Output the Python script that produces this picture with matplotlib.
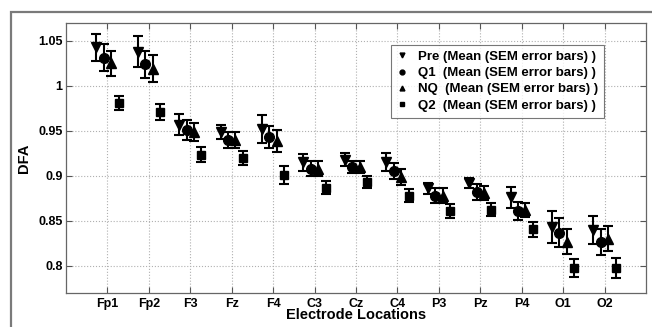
import numpy as np
import matplotlib
matplotlib.use('Agg')
import matplotlib.pyplot as plt
from matplotlib.patches import Rectangle

plt.rcParams['font.family'] = ['Liberation Sans', 'DejaVu Sans']
plt.rcParams['font.weight'] = 'bold'

# electrode sites
electrodes = ['Fp1', 'Fp2', 'F3', 'Fz', 'F4', 'C3', 'Cz', 'C4', 'P3', 'Pz', 'P4', 'O1', 'O2']

# mean DFA and SEM per group
pre_mean = [1.043, 1.038, 0.957, 0.949, 0.952, 0.915, 0.918, 0.915, 0.886, 0.892, 0.876, 0.843, 0.840]
pre_sem = [0.015, 0.017, 0.012, 0.008, 0.015, 0.0095, 0.0075, 0.010, 0.0065, 0.006, 0.012, 0.0175, 0.0157]
q1_mean = [1.031, 1.024, 0.951, 0.940, 0.943, 0.908, 0.910, 0.905, 0.878, 0.882, 0.861, 0.837, 0.827]
q1_sem = [0.015, 0.015, 0.011, 0.009, 0.012, 0.008, 0.007, 0.009, 0.008, 0.0085, 0.010, 0.016, 0.0144]
nq_mean = [1.025, 1.019, 0.949, 0.940, 0.939, 0.908, 0.910, 0.899, 0.878, 0.881, 0.862, 0.827, 0.830]
nq_sem = [0.014, 0.015, 0.010, 0.009, 0.012, 0.008, 0.007, 0.009, 0.0085, 0.008, 0.008, 0.0137, 0.0138]
q2_mean = [0.981, 0.971, 0.9235, 0.920, 0.901, 0.887, 0.893, 0.878, 0.861, 0.8625, 0.8405, 0.798, 0.7975]
q2_sem = [0.008, 0.009, 0.008, 0.008, 0.0095, 0.0075, 0.007, 0.007, 0.0077, 0.0075, 0.0088, 0.010, 0.011]

x = np.arange(1, len(electrodes) + 1)

fig = plt.figure(figsize=(6.52, 3.27), dpi=100)
ax = fig.add_axes([0.1012, 0.104, 0.8896, 0.8266])

# outer frame around the figure
fig.add_artist(Rectangle((11 / 652, -0.05), 1.2, 1 - 12 / 327 + 0.05, transform=fig.transFigure,
                         fill=False, edgecolor='#7a7a7a', lw=1.6))

series = [
    (pre_mean, pre_sem, 'v', -0.27, 'Pre (Mean (SEM error bars) )'),
    (q1_mean, q1_sem, 'o', -0.09, 'Q1  (Mean (SEM error bars) )'),
    (nq_mean, nq_sem, '^', 0.09, 'NQ  (Mean (SEM error bars) )'),
    (q2_mean, q2_sem, 's', 0.27, 'Q2  (Mean (SEM error bars) )'),
]
for m, s, mk, off, lab in series:
    ms = 5.5 if mk == 's' else 7
    ax.errorbar(x + off, m, yerr=s, fmt=mk, color='black', ms=ms, capsize=3.4,
                elinewidth=1.5, capthick=1.5, label=lab)

ax.set_xlim(0, 14)
ax.set_ylim(0.77, 1.07)
ax.set_xticks(x)
ax.set_xticklabels(electrodes, fontsize=9, fontweight='bold')
ax.set_yticks([0.8, 0.85, 0.9, 0.95, 1.0, 1.05])
ax.set_yticklabels(['0.8', '0.85', '0.9', '0.95', '1', '1.05'], fontsize=9, fontweight='bold')
ax.tick_params(direction='in', top=True, right=True, length=4, color='#555555')
ax.tick_params(axis='y', pad=2.5)
ax.tick_params(axis='x', pad=3.5)
ax.grid(True, linestyle=':', color='#b0b0b0', lw=0.8)
for sp in ax.spines.values():
    sp.set_color('#666666')
    sp.set_linewidth(0.9)

ax.set_xlabel('Electrode Locations', fontsize=10.5, fontweight='bold', labelpad=-1)
ax.set_ylabel('DFA', fontsize=10.5, fontweight='bold', labelpad=5)

# legend
handles, labels = ax.get_legend_handles_labels()
handles = [h[0] for h in handles]
leg = ax.legend(handles, labels, loc='upper left', bbox_to_anchor=(0.56, 0.918),
                prop={'weight': 'bold', 'size': 9.5}, frameon=True,
                fancybox=False, edgecolor='#555555', handlelength=0.8, handletextpad=0.8,
                markerscale=0.5, borderpad=0.45, labelspacing=0.3, borderaxespad=0)
leg.get_frame().set_linewidth(0.8)

plt.savefig('out.png', dpi=100)
